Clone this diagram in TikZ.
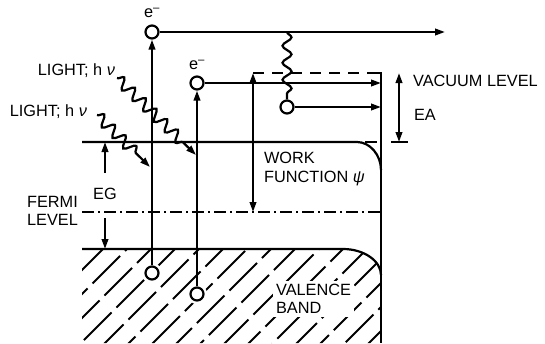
\documentclass[tikz,border=0pt]{standalone}
\usepackage{fontspec}
\setmainfont{Liberation Sans}
\usetikzlibrary{arrows.meta,decorations.pathmorphing}
\begin{document}
\begin{tikzpicture}[x=1pt,y=-1pt,line width=2.2pt,
  lbl/.style={font=\fontsize{16.3}{18.6}\selectfont, inner sep=0pt, align=left},
  elec/.style={circle, draw, fill=white, minimum size=13pt, inner sep=0pt,
    preaction={draw=white, line width=7pt}},
  tipend/.style={-{Triangle[length=10pt,width=6.5pt]}},
  tipboth/.style={{Triangle[length=10pt,width=6.5pt]}-{Triangle[length=10pt,width=6.5pt]}},
  photon/.style={decorate, decoration={snake, segment length=15pt, amplitude=5.5pt, post length=18pt}},
  hatchline/.style={line width=2pt},
  fermi/.style={dash pattern=on 12pt off 4pt on 2pt off 4pt},
  vac/.style={dash pattern=on 11pt off 8pt}
]
\useasboundingbox (0,0) rectangle (545,343);

% hatched valence band
\begin{scope}
  \clip (82,249) -- (343,249) .. controls (364,249) and (381,261) .. (381,275) -- (381,343) -- (82,343) -- cycle;
  \foreach \c [count=\i] in {328,352,...,736} {
    \pgfmathsetmacro\ph{mod(\i*17,46)}
    \draw[hatchline, dash pattern=on 39pt off 7pt, dash phase=\ph pt] (\c-345,345) -- (\c-245,245);
  }
\end{scope}

% band edges and wall
\draw (82,249) -- (343,249) .. controls (364,249) and (381,261) .. (381,275);
\draw (82,142) -- (357,142) .. controls (370,142) and (381,155) .. (381,170);
\draw (375,73) -- (381,73) -- (381,343);
\draw[vac] (253,73) -- (378,73);
\draw[dash pattern=on 12pt off 14pt on 17pt] (365,142) -- (408,142);
\draw[fermi] (82,212) -- (381,212);

% electrons
\node[elec] (c1b) at (152,273) {};
\node[elec] (c2b) at (197,294) {};
\node[elec] (c1t) at (152,32) {};
\node[elec] (c2t) at (197,83) {};
\node[elec] (c3) at (287,107) {};
\coordinate (far) at (445,32);
\coordinate (w2) at (381,83);
\coordinate (w3) at (381,107);
\coordinate (vt) at (287,32);

\draw[tipend] (c1b.north) -- (c1t.south);
\draw[tipend] (c2b.north) -- (c2t.south);
\draw[tipend] (c1t.east) -- (far);
\draw[tipend] (c2t.east) -- (w2);
\draw[tipend] (c3.east) -- (w3);
\draw[decorate, decoration={snake, segment length=17pt, amplitude=4.5pt, post length=5pt}] (vt) -- (c3.north);

% photons
\coordinate (p1s) at (117,78);
\coordinate (p1e) at (196,155);
\coordinate (p2s) at (97,115);
\coordinate (p2e) at (150,167);
\draw[photon, tipend] (p1s) -- (p1e);
\draw[photon, tipend, decoration={post length=14pt}] (p2s) -- (p2e);

% level arrows
\coordinate (wf1) at (253,73);
\coordinate (wf2) at (253,212);
\draw[tipboth] (wf1) -- (wf2);
\coordinate (ea1) at (399,73);
\coordinate (ea2) at (399,142);
\draw[tipboth] (ea1) -- (ea2);
\coordinate (eg1) at (105,173);
\coordinate (eg2) at (105,142);
\coordinate (eg3) at (105,218);
\coordinate (eg4) at (105,249);
\draw[tipend] (eg1) -- (eg2);
\draw[tipend] (eg3) -- (eg4);

% labels
\node[lbl] (e1) at (152,13) {e\textsuperscript{\textendash}};
\node[lbl] (e2) at (197,65) {e\textsuperscript{\textendash}};
\node[lbl, anchor=east] (l1) at (116,71) {LIGHT; h {\itshape ν}};
\node[lbl, anchor=east] (l2) at (88,112) {LIGHT; h {\itshape ν}};
\node[lbl, anchor=west] (vl) at (412,81) {VACUUM LEVEL};
\node[lbl, anchor=west] (ea) at (413,115) {EA};
\node[lbl, anchor=west] (wf) at (263,169) {WORK\\FUNCTION {\itshape ψ}};
\node[lbl, anchor=west] (fl) at (26,211) {FERMI\\LEVEL};
\node[lbl] (eg) at (105,194) {EG};
\node[lbl, anchor=west, fill=white, inner sep=3pt] (vb) at (272,299) {VALENCE\\BAND};
\end{tikzpicture}
\end{document}
